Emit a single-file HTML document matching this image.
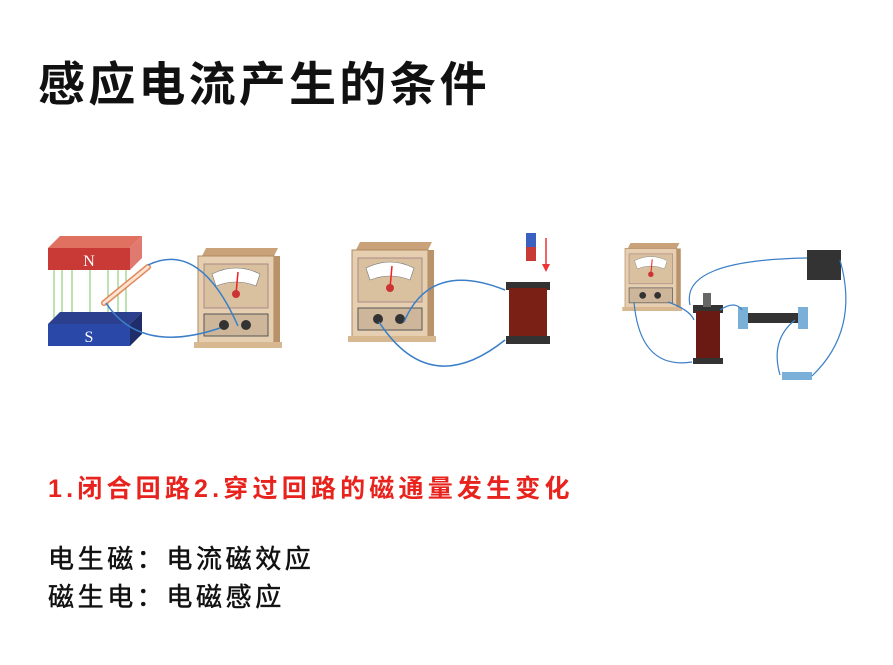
<!DOCTYPE html>
<html><head><meta charset="utf-8"><style>
body{margin:0;background:#fff;width:893px;height:665px;overflow:hidden;position:relative;font-family:"Liberation Sans","Noto Sans CJK SC",sans-serif}
.t{position:absolute;white-space:nowrap;font-weight:bold}
</style></head><body>
<div class="t" style="left:38px;top:46px;font-size:47px;color:#111;letter-spacing:3.2px">感应电流产生的条件</div>
<div class="t" style="left:48px;top:469px;font-size:25px;color:#e8231d;letter-spacing:4.2px">1.闭合回路2.穿过回路的磁通量发生变化</div>
<div class="t" style="left:48px;top:539px;font-size:26px;color:#111;font-weight:normal;-webkit-text-stroke:0.5px #111;letter-spacing:3.6px">电生磁：电流磁效应</div>
<div class="t" style="left:48px;top:577px;font-size:26px;color:#111;font-weight:normal;-webkit-text-stroke:0.5px #111;letter-spacing:3.6px">磁生电：电磁感应</div>
<svg width="893" height="665" style="position:absolute;left:0;top:0">
<defs>
<g id="gal">
<polygon points="4,8 76,8 80,0 8,0" fill="#c9a27a"/>
<rect x="0" y="8" width="76" height="90" fill="#e6cfb0" stroke="#b08860"/>
<rect x="76" y="8" width="6" height="90" fill="#b8926a"/>
<rect x="6" y="16" width="64" height="44" fill="#d9c1a0" stroke="#a88"/>
<path d="M14,26 Q38,14 62,26 L58,38 Q38,30 18,38Z" fill="#fff" stroke="#777" stroke-width="0.6"/>
<line x1="38" y1="46" x2="40" y2="24" stroke="#e22" stroke-width="1.5"/>
<circle cx="38" cy="46" r="4" fill="#c33"/>
<rect x="6" y="66" width="64" height="22" fill="#cdb69a" stroke="#555"/>
<circle cx="26" cy="77" r="5" fill="#333"/><circle cx="48" cy="77" r="5" fill="#333"/>
<rect x="-4" y="94" width="88" height="6" fill="#d8b890"/>
</g>
</defs>
<polygon points="48,248 130,248 142,236 60,236" fill="#e07060"/>
<rect x="48" y="248" width="82" height="22" fill="#c93a36"/>
<polygon points="130,248 142,236 142,258 130,270" fill="#e07a70"/>
<text x="89" y="266" font-size="16" fill="#fff" text-anchor="middle" font-family="Liberation Serif">N</text>
<g stroke="#8fd07a" stroke-width="1.2">
<line x1="54" y1="270" x2="54" y2="318"/><line x1="72" y1="270" x2="72" y2="318"/><line x1="90" y1="270" x2="90" y2="318"/><line x1="108" y1="270" x2="108" y2="318"/><line x1="126" y1="270" x2="126" y2="318"/><line x1="62" y1="270" x2="62" y2="314"/><line x1="118" y1="270" x2="118" y2="314"/>
</g>
<polygon points="48,324 130,324 142,312 60,312" fill="#2c3f8f"/>
<rect x="48" y="324" width="82" height="22" fill="#2a48a8"/>
<polygon points="130,324 142,312 142,334 130,346" fill="#1f2e6a"/>
<text x="89" y="342" font-size="16" fill="#fff" text-anchor="middle" font-family="Liberation Serif">S</text>
<line x1="104" y1="303" x2="148" y2="267" stroke="#e08a60" stroke-width="6" stroke-linecap="round"/>
<line x1="104" y1="303" x2="148" y2="267" stroke="#fde3d0" stroke-width="3" stroke-linecap="round"/>
<use href="#gal" x="198" y="248"/>
<path d="M148,265 Q200,240 238,326" stroke="#3a7fc8" stroke-width="1.5" fill="none"/>
<path d="M106,303 Q140,355 220,328" stroke="#3a7fc8" stroke-width="1.5" fill="none"/>
<use href="#gal" x="352" y="242"/>
<rect x="526" y="233" width="10" height="14" fill="#3a60c0"/><rect x="526" y="247" width="10" height="14" fill="#c83a36"/>
<line x1="546" y1="238" x2="546" y2="266" stroke="#e33" stroke-width="1.5"/><polygon points="542,264 550,264 546,272" fill="#e33"/>
<rect x="506" y="282" width="44" height="8" fill="#333"/>
<rect x="509" y="288" width="38" height="50" fill="#7a2015"/>
<rect x="506" y="336" width="44" height="8" fill="#333"/>
<path d="M404,322 Q430,260 505,290" stroke="#3a7fc8" stroke-width="1.5" fill="none"/>
<path d="M379,322 Q430,400 505,340" stroke="#3a7fc8" stroke-width="1.5" fill="none"/>
<g transform="translate(625,243) scale(0.68)"><use href="#gal"/></g>
<rect x="807" y="250" width="34" height="30" fill="#333"/>
<rect x="693" y="305" width="30" height="8" fill="#333"/><rect x="696" y="311" width="24" height="50" fill="#6a1a12"/><rect x="693" y="358" width="30" height="6" fill="#333"/>
<rect x="703" y="293" width="8" height="14" fill="#666"/>
<rect x="744" y="313" width="58" height="10" fill="#333"/><rect x="738" y="307" width="10" height="22" fill="#7ab0d8"/><rect x="798" y="307" width="10" height="22" fill="#7ab0d8"/>
<rect x="782" y="372" width="30" height="8" fill="#7ab0d8"/>
<g stroke="#3a7fc8" stroke-width="1.2" fill="none">
<path d="M690,305 Q680,260 807,258"/><path d="M634,302 Q640,370 692,362"/><path d="M668,302 Q690,310 694,320"/>
<path d="M720,310 Q735,300 742,310"/><path d="M795,320 Q770,340 780,375"/><path d="M840,260 Q860,330 812,376"/>
</g>
</svg>
</body></html>
